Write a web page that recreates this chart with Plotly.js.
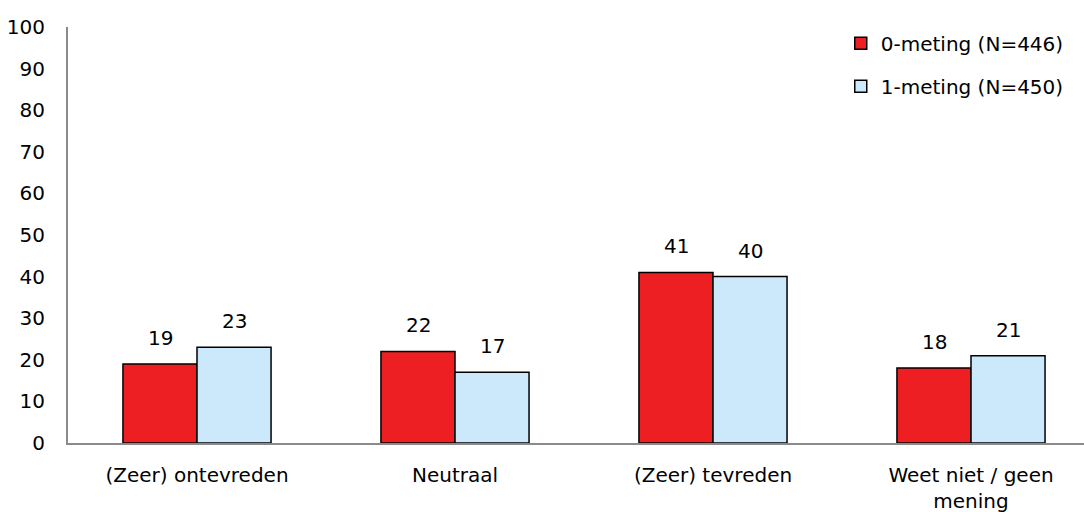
<!DOCTYPE html>
<html><head><meta charset="utf-8">
<script src="https://cdn.plot.ly/plotly-3.0.1.min.js"></script>
<style>body{margin:0;padding:0;background:#fff}#chart{width:1084px;height:512px}</style>
</head><body><div id="chart"></div>
<script>
const categories = ["(Zeer) ontevreden", "Neutraal", "(Zeer) tevreden", "Weet niet / geen<br>mening"];
const series0Name = "0-meting (N=446)";
const series0Values = [19, 22, 41, 18];
const series1Name = "1-meting (N=450)";
const series1Values = [23, 17, 40, 21];
const yTicks = [0,10,20,30,40,50,60,70,80,90,100];

const font = {family: "DejaVu Sans", size: 20, color: "#000"};
function tr(name, vals, color, grp){
  return {type:"bar", name:name, x:categories, y:vals,
    legendgroup:grp,
    marker:{color:color, line:{color:"#000", width:1.5}}, hoverinfo:"none"};
}
const data = [tr(series0Name, series0Values, "#EE1F23", "a"), tr(series1Name, series1Values, "#CCE9FC", "b")];
const annotations = [];
[[series0Values, -37], [series1Values, 37]].forEach(([vals, dx]) => {
  vals.forEach((v, i) => annotations.push({x: categories[i], y: v, xref:"x", yref:"y",
    text: String(v), showarrow:false, xshift: dx, yanchor:"bottom", yshift: 12, font: font}));
});
const layout = {
  width:1084, height:512, margin:{l:68, r:0, t:27, b:69},
  paper_bgcolor:"#fff", plot_bgcolor:"#fff", font:font,
  barmode:"group", bargap:0.426, bargroupgap:0,
  showlegend:true, annotations: annotations,
  legend:{x:0.985, xanchor:"right", y:1.008, yanchor:"top", bgcolor:"rgba(0,0,0,0)",
    tracegroupgap:14, font:font, itemwidth:30},
  xaxis:{type:"category", range:[-0.5, 3.438], showline:true, linecolor:"#8a8a8a", linewidth:2,
    showgrid:false, ticks:"", tickfont:font, ticklabelstandoff:13, zeroline:false},
  yaxis:{range:[0,100], tickvals:yTicks, showline:true, linecolor:"#8a8a8a", linewidth:2,
    showgrid:false, zeroline:false, ticks:"", tickfont:font, ticklabelstandoff:17}
};
Plotly.newPlot("chart", data, layout, {staticPlot:true});
</script></body></html>
